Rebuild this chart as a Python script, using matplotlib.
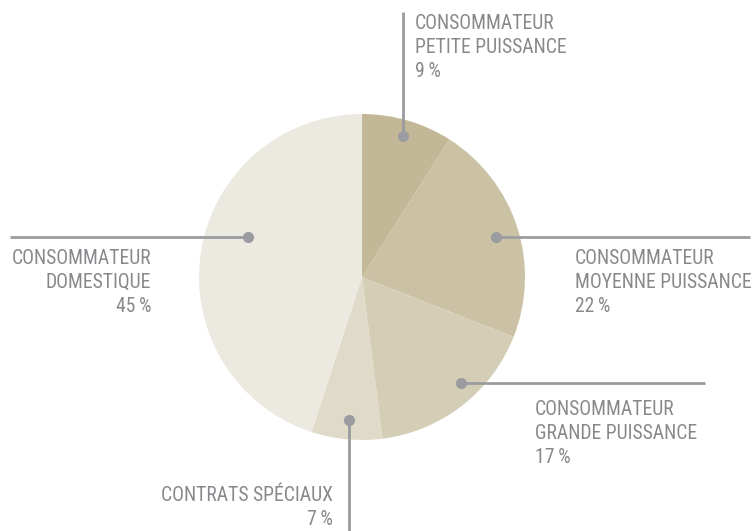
import matplotlib
matplotlib.use('Agg')
import matplotlib.pyplot as plt

plt.rcParams['font.family'] = ['Roboto Condensed', 'DejaVu Sans']

labels = ['CONSOMMATEUR\nPETITE PUISSANCE', 'CONSOMMATEUR\nMOYENNE PUISSANCE',
          'CONSOMMATEUR\nGRANDE PUISSANCE', 'CONTRATS SPÉCIAUX',
          'CONSOMMATEUR\nDOMESTIQUE']
shares = [9, 22, 17, 7, 45]
colors = ['#c2b797', '#cbc1a4', '#d5ceb7', '#e0dac9', '#ece9e1']

text_col = '#86888b'
line_col = '#9a9ca0'

# leader layout in pixel coords: dot, line end, text anchor, alignment
leaders = [
    ((403, 136), (403, 12), (415, 14), 'left'),
    ((496, 237), (750, 237), (575, 249), 'left'),
    ((461, 383), (705, 383), (535, 400), 'left'),
    ((349, 420), (349, 531), (333, 486), 'right'),
    ((248, 237), (10, 237), (151, 249), 'right'),
]

fig = plt.figure(figsize=(7.55, 5.31), dpi=100)
ax = fig.add_axes([0, 0, 1, 1])
ax.pie(shares, colors=colors, startangle=-90, counterclock=True,
       center=(362, 277), radius=163, wedgeprops=dict(linewidth=0))
ax.set_xlim(0, 755)
ax.set_ylim(531, 0)
ax.axis('off')

for lab, val, (dot, end, txt, ha) in zip(labels, shares, leaders):
    ax.plot([dot[0], end[0]], [dot[1], end[1]], color=line_col, lw=2,
            solid_capstyle='butt', zorder=3)
    ax.plot(*dot, 'o', color=line_col, ms=7, zorder=4)
    ax.text(txt[0], txt[1], lab + '\n' + str(val) + '\u2009%', ha=ha, va='top',
            multialignment=ha, fontsize=14.1, color=text_col, linespacing=1.34)

fig.savefig('out.png', dpi=100)
